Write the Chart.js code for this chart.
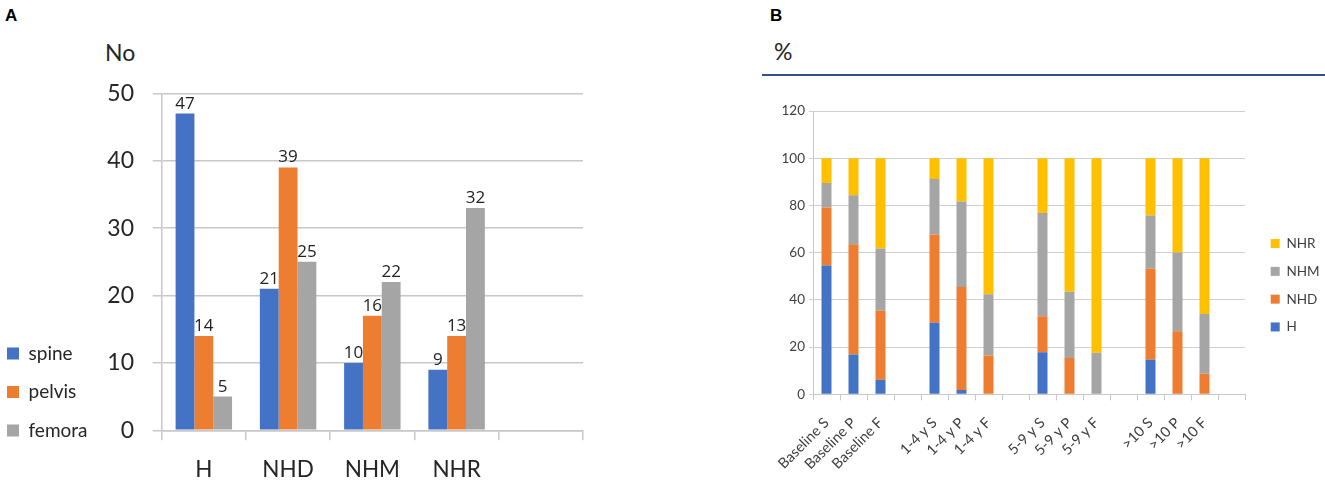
<!DOCTYPE html>
<html>
<head>
<meta charset="utf-8">
<script src="https://cdn.jsdelivr.net/npm/chart.js@4.4.1/dist/chart.umd.min.js"></script>
<style>
  html, body { margin: 0; padding: 0; background: #fff; }
  body { width: 1325px; height: 481px; position: relative; overflow: hidden; font-family: Lato, sans-serif; }
  .letter { position: absolute; font: bold 17px "Liberation Sans", Arial, sans-serif; color: #000; line-height: 1; }
  .unit   { position: absolute; font-size: 23px; color: #262626; line-height: 1; }
  .rule   { position: absolute; left: 762px; top: 74px; width: 563px; height: 2px; background: #2f4f8f; }
  #boxA   { position: absolute; left: 0; top: 0; }
  #boxB   { position: absolute; left: 760px; top: 0; }
</style>
</head>
<body>
  <div class="letter" style="left:5px; top:7px;">A</div>
  <div class="letter" style="left:770px; top:7px;">B</div>
  <div class="unit" style="left:105px; top:41px;">No</div>
  <div class="unit" style="left:774px; top:40px;">%</div>
  <div class="rule"></div>

  <canvas id="boxA" width="600" height="481"></canvas>
  <canvas id="boxB" width="565" height="481"></canvas>

<script>
// ---- A: counts per lesion class ----
const groups = ['H', 'NHD', 'NHM', 'NHR', ''];
const spine  = [47, 21, 10,  9, null];
const pelvis = [14, 39, 17, 14, null];
const femora = [ 5, 25, 22, 33, null];
// numbers printed over the bars (three differ from the bar heights in the source)
const spineText  = ['47', '21', '10', '9'];
const pelvisText = ['14', '39', '16', '13'];
const femoraText = ['5', '25', '22', '32'];
const countTicks = [0, 10, 20, 30, 40, 50];

// ---- B: share per follow-up period, % ----
const stages = ['Baseline S', 'Baseline P', 'Baseline F', '',
                '1-4 y S', '1-4 y P', '1-4 y F', '',
                '5-9 y S', '5-9 y P', '5-9 y F', '',
                '>10 S', '>10 P', '>10 F', ''];
const pctH   = [54.6, 16.9,  6.2, null, 30.3,  1.8,  0,   null, 17.8,  0,    0,   null, 14.6,  0,    0,   null];
const pctNHD = [24.5, 46.7, 29.3, null, 37.4, 43.6, 16.4, null, 15.3, 15.4,  0,   null, 38.6, 26.7,  8.7, null];
const pctNHM = [10.4, 20.7, 26.3, null, 23.5, 36.3, 26.0, null, 43.7, 28.0, 17.6, null, 22.5, 33.4, 25.3, null];
const pctNHR = [10.5, 15.7, 38.2, null,  8.8, 18.3, 57.6, null, 23.2, 56.6, 82.4, null, 24.3, 39.9, 66.0, null];
const pctTicks = [0, 20, 40, 60, 80, 100, 120];

const BLUE = '#4472c4', ORANGE = '#ed7d31', GREY = '#a5a5a5', GOLD = '#ffc000';
const GRID = '#c8c8c8';

Chart.defaults.font.family = 'Lato, sans-serif';

// legend text as one-line arrays: then the row step follows font.lineHeight
const arrayLabels = chart =>
  Chart.defaults.plugins.legend.labels.generateLabels(chart).map(l => ({ ...l, text: [l.text] }));

// an empty legend title is only used as a spacer above the first item
const spacer = gap => ({ display: true, text: '', font: { size: 1, lineHeight: '1px' }, padding: { top: gap - 1, bottom: 0 } });

// values over the bars of A
const barText = {
  id: 'barText',
  afterDatasetsDraw(chart) {
    const ctx = chart.ctx;
    ctx.save();
    ctx.font = '17px "Open Sans", sans-serif';
    ctx.fillStyle = '#222';
    ctx.textAlign = 'center';
    ctx.textBaseline = 'alphabetic';
    chart.data.datasets.forEach((ds, i) => {
      chart.getDatasetMeta(i).data.forEach((bar, idx) => {
        const t = ds.printed[idx];
        if (t) ctx.fillText(t, bar.x, bar.y - 5);
      });
    });
    ctx.restore();
  },
};

new Chart(document.getElementById('boxA'), {
  type: 'bar',
  data: {
    labels: groups,
    datasets: [
      { label: 'spine',  data: spine,  printed: spineText,  backgroundColor: BLUE },
      { label: 'pelvis', data: pelvis, printed: pelvisText, backgroundColor: ORANGE },
      { label: 'femora', data: femora, printed: femoraText, backgroundColor: GREY },
    ],
  },
  plugins: [barText],
  options: {
    responsive: false,
    animation: false,
    datasets: { bar: { barPercentage: 1, categoryPercentage: 0.67 } },
    layout: { padding: { top: 93.3, left: 0, right: 17, bottom: 0 } },
    plugins: {
      legend: {
        position: 'left',
        align: 'start',
        maxWidth: 90,
        title: spacer(243.7),
        labels: {
          boxWidth: 12, boxHeight: 12, padding: 7,
          color: '#262626',
          font: { size: 19, lineHeight: 31.5 / 19 },
          generateLabels: arrayLabels,
        },
      },
      tooltip: { enabled: false },
    },
    scales: {
      x: {
        grid: { drawOnChartArea: false, tickLength: 10, color: GRID, lineWidth: 1.5, offset: true },
        border: { color: GRID, width: 1.5 },
        ticks: { font: { size: 22.5 }, color: '#262626', padding: 16 },
        afterFit(s) { s.height = 50.7; },
      },
      y: {
        min: countTicks[0],
        max: countTicks[countTicks.length - 1],
        ticks: { stepSize: countTicks[1] - countTicks[0], font: { size: 23 }, color: '#262626', padding: 18.7 },
        grid: { color: GRID, lineWidth: 1.5, tickLength: 9 },
        border: { color: GRID, width: 1.5 },
        afterFit(s) { s.width = 71.7; },
      },
    },
  },
});

new Chart(document.getElementById('boxB'), {
  type: 'bar',
  data: {
    labels: stages,
    datasets: [
      { label: 'H',   data: pctH,   backgroundColor: BLUE },
      { label: 'NHD', data: pctNHD, backgroundColor: ORANGE },
      { label: 'NHM', data: pctNHM, backgroundColor: GREY },
      { label: 'NHR', data: pctNHR, backgroundColor: GOLD },
    ],
  },
  options: {
    responsive: false,
    animation: false,
    datasets: { bar: { barPercentage: 0.37, categoryPercentage: 1 } },
    layout: { padding: { top: 111, left: 0, right: 0, bottom: 0 } },
    plugins: {
      legend: {
        position: 'right',
        align: 'start',
        reverse: true,
        maxWidth: 80,
        title: spacer(100.1),
        labels: {
          boxWidth: 9, boxHeight: 9, padding: 25.7,
          color: '#404040',
          font: { size: 13.5, lineHeight: '2.1px' },
          generateLabels: arrayLabels,
        },
      },
      tooltip: { enabled: false },
    },
    scales: {
      x: {
        stacked: true,
        grid: { drawOnChartArea: false, tickLength: 6, color: GRID, offset: true },
        border: { color: GRID },
        ticks: { font: { size: 14.5 }, color: '#404040', minRotation: 45, maxRotation: 45, autoSkip: false, padding: 14 },
        afterFit(s) { s.height = 86.7; },
      },
      y: {
        stacked: true,
        min: pctTicks[0],
        max: pctTicks[pctTicks.length - 1],
        ticks: { stepSize: pctTicks[1] - pctTicks[0], font: { size: 13.5 }, color: '#404040', padding: 4 },
        grid: { color: '#d0d0d0', tickLength: 4 },
        border: { color: GRID },
        afterFit(s) { s.width = 53; },
      },
    },
  },
});
</script>
</body>
</html>
